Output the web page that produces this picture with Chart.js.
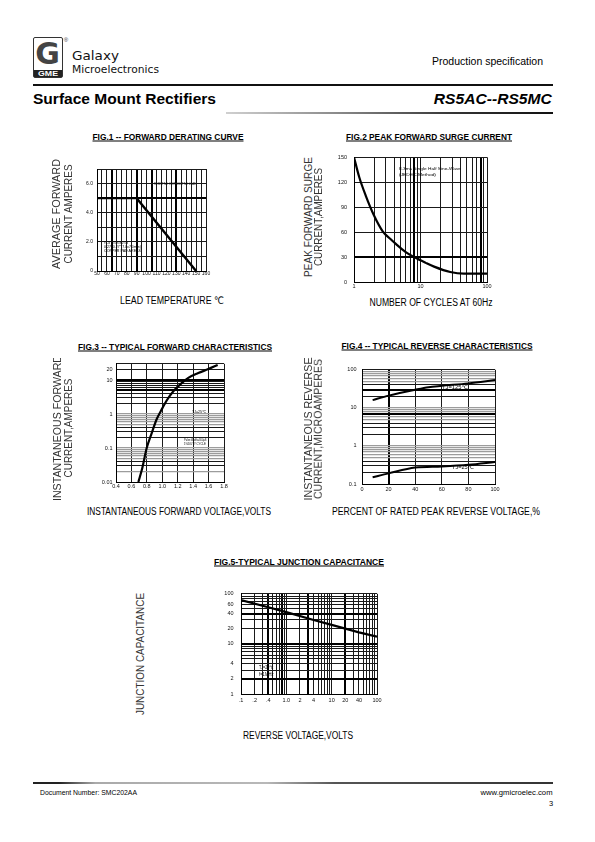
<!DOCTYPE html>
<html><head><meta charset="utf-8"><title>RS5AC--RS5MC</title>
<script src="https://cdn.jsdelivr.net/npm/chart.js@4.4.1/dist/chart.umd.min.js"></script>
<style>
html,body{margin:0;padding:0;background:#fff;}
#page{position:relative;width:595px;height:842px;overflow:hidden;background:#fff;}
#page canvas{position:absolute;}
.t{position:absolute;white-space:nowrap;line-height:1;}
.b{position:absolute;}
</style></head>
<body><div id="page"></div>
<script>
// ================= DATA =================
// Fig.1 forward derating curve
const fig1Temp = [50, 90, 150];
const fig1Amps = [5.0, 5.0, 0.0];
const fig1GridX = [50,55,60,65,70,75,80,85,90,95,100,105,110,115,120,125,130,135,140,145,150,155,160];
const fig1TickX = [50,60,70,80,90,100,110,120,130,140,150,160];
const fig1TickXText = ['50','60','70','80','90','100','110','120','130','140','150','160'];
const fig1GridY = [0,1,2,3,4,5,6,7];
const fig1TickY = [0,2,4,6];
const fig1TickYText = ['0','2.0','4.0','6.0'];

// Fig.2 peak forward surge current
const fig2Cycles = [1,1.2,1.5,2,2.7,3.5,4.3,6,8,12,16,28,45,100];
const fig2Amps = [150,126,104,80,61,52,45.5,36,30,23,18.5,12,10,10];
const fig2GridX = [1,2,3,4,5,6,7,8,9,10,20,30,40,50,60,70,80,90,100];
const fig2TickX = [1,10,100];
const fig2TickXText = ['1','10','100'];
const fig2GridY = [0,30,60,90,120,150];
const fig2TickY = [0,30,60,90,120,150];
const fig2TickYText = ['0','30','60','90','120','150'];

// Fig.3 typical forward characteristics
const fig3Volts = [0.69,0.741,0.798,0.862,0.927,0.983,1.057,1.143,1.251,1.337,1.467,1.597,1.718];
const fig3Amps = [0.01,0.026,0.1,0.27,0.70,1.24,2.5,4.7,8.1,11.6,16,21,27.8];
const fig3GridX = [0.4,0.6,0.8,1.0,1.2,1.4,1.6,1.8];
const fig3TickX = [0.4,0.6,0.8,1.0,1.2,1.4,1.6,1.8];
const fig3TickXText = ['0.4','0.6','0.8','1.0','1.2','1.4','1.6','1.8'];
const fig3GridY = [0.01,0.02,0.03,0.04,0.05,0.06,0.07,0.08,0.09,0.1,0.2,0.3,0.4,0.5,0.6,0.7,0.8,0.9,1,2,3,4,5,6,7,8,9,10,20,30];
const fig3TickY = [0.01,0.1,1,10,20];
const fig3TickYText = ['0.01','0.1','1','10','20'];

// Fig.4 typical reverse characteristics
const fig4Percent125 = [8,20,40,50,60,80,100];
const fig4Micro125 = [16,21,30,35,38,44,54];
const fig4Percent25 = [8,20,40,60,80,100];
const fig4Micro25 = [0.15,0.19,0.27,0.29,0.32,0.38];
const fig4GridX = [0,20,40,60,80,100];
const fig4TickX = [0,20,40,60,80,100];
const fig4TickXText = ['0','20','40','60','80','100'];
const fig4GridY = [0.1,0.2,0.3,0.4,0.5,0.6,0.7,0.8,0.9,1,2,3,4,5,6,7,8,9,10,20,30,40,50,60,70,80,90,100];
const fig4TickY = [0.1,1,10,100];
const fig4TickYText = ['0.1','1','10','100'];

// Fig.5 typical junction capacitance
const fig5Volts = [0.1,0.4,1,4,10,40,100];
const fig5Cap = [75,54,43,30,24,17,14];
const fig5GridX = [0.1,0.2,0.3,0.4,0.5,0.6,0.7,0.8,0.9,1,2,3,4,5,6,7,8,9,10,20,30,40,50,60,70,80,90,100];
const fig5TickX = [0.1,0.2,0.4,1,2,4,10,20,40,100];
const fig5TickXText = ['.1','.2','.4','1.0','2','4','10','20','40','100'];
const fig5GridY = [1,2,3,4,5,6,7,8,9,10,20,30,40,50,60,70,80,90,100];
const fig5TickY = [1,2,4,10,20,40,60,100];
const fig5TickYText = ['1','2','4','10','20','40','60','100'];

// ================= HELPERS =================
const page = document.getElementById('page');
const SANS = '"Liberation Sans", Arial, "DejaVu Sans", sans-serif';
Chart.defaults.font.family = SANS;
Chart.defaults.color = '#111';

function place(text, x, y, w, fs, o) {
  o = o || {};
  const base = Math.max(fs, 9);
  const ky = fs / base;
  const d = document.createElement('div');
  d.className = 't';
  d.textContent = text;
  d.style.fontFamily = o.fam || SANS;
  d.style.fontSize = base + 'px';
  d.style.fontWeight = o.bold ? 'bold' : 'normal';
  d.style.fontStyle = o.italic ? 'italic' : 'normal';
  d.style.color = o.color || '#000';
  if (o.underline) d.style.textDecoration = 'underline';
  if (o.ls) d.style.letterSpacing = o.ls + 'px';
  (o.parent || page).appendChild(d);
  const nat = d.getBoundingClientRect().width;
  const kx = w ? w / nat : ky;
  const a = o.anchor || 'c';
  d.style.top = y + 'px';
  if (o.rot) {
    d.style.left = x + 'px';
    d.style.transform = `translate(-50%,-50%) rotate(-90deg) scale(${kx},${ky})`;
  } else if (a === 'l') {
    d.style.left = x + 'px';
    d.style.transformOrigin = '0 50%';
    d.style.transform = `translate(0,-50%) scale(${kx},${ky})`;
  } else if (a === 'r') {
    d.style.left = (x - nat) + 'px';
    d.style.transformOrigin = '100% 50%';
    d.style.transform = `translate(0,-50%) scale(${kx},${ky})`;
  } else {
    d.style.left = x + 'px';
    d.style.transform = `translate(-50%,-50%) scale(${kx},${ky})`;
  }
  return d;
}
function box(l, t, w, h, css) {
  const d = document.createElement('div');
  d.className = 'b';
  d.style.cssText = `left:${l}px;top:${t}px;width:${w}px;height:${h}px;` + (css || '');
  page.appendChild(d);
  return d;
}
function has(arr, v) { return arr.some(a => Math.abs(a - v) <= 1e-9 * Math.max(1, Math.abs(a))); }
function sig(v) { return Math.round(v / Math.pow(10, Math.floor(Math.log10(v) + 1e-9))); }
function pts(xs, ys) { return xs.map((x, i) => ({ x, y: ys[i] })); }

const thin = { c: '#1a1a1a', w: 1 }, bold = { c: '#000', w: 2 }, gray = { c: '#9c9c9c', w: 1.3 };

function axis(type, min, max, grid, labels, texts, style, fontSize, pad) {
  return {
    type, min, max,
    afterBuildTicks: s => { s.ticks = grid.map(v => ({ value: v })); },
    ticks: {
      autoSkip: false, maxRotation: 0, minRotation: 0, padding: pad,
      font: { size: fontSize, family: SANS }, color: '#111',
      callback: v => { const k = labels.findIndex(l => Math.abs(l - v) <= 1e-9 * Math.max(1, Math.abs(l))); return k < 0 ? '' : texts[k]; }
    },
    grid: {
      drawTicks: false,
      color: c => style(c.tick ? c.tick.value : NaN).c,
      lineWidth: c => style(c.tick ? c.tick.value : NaN).w
    },
    border: { display: true, color: '#000', width: 1 }
  };
}

const PAD_L = 40, PAD_T = 5, PAD_R = 10, PAD_B = 14;
function makeChart(rect, xAxis, yAxis, datasets) {
  const W = rect.r - rect.l + PAD_L + PAD_R, H = rect.b - rect.t + PAD_T + PAD_B;
  const cv = document.createElement('canvas');
  cv.width = W; cv.height = H;
  cv.style.left = (rect.l - PAD_L) + 'px'; cv.style.top = (rect.t - PAD_T) + 'px';
  cv.style.width = W + 'px'; cv.style.height = H + 'px';
  page.appendChild(cv);
  xAxis.position = 'bottom'; yAxis.position = 'left';
  xAxis.afterFit = s => { s.height = PAD_B; };
  yAxis.afterFit = s => { s.width = PAD_L; };
  return new Chart(cv, {
    type: 'line',
    data: { datasets },
    options: {
      responsive: false, animation: false, devicePixelRatio: 1, events: [],
      layout: { padding: { left: 0, top: PAD_T, right: PAD_R, bottom: 0 } },
      plugins: { legend: { display: false }, tooltip: { enabled: false } },
      scales: { x: xAxis, y: yAxis }
    }
  });
}
function curve(data, smooth, w) {
  return { data, borderColor: '#000', borderWidth: w || 2, pointRadius: 0, fill: false,
    tension: 0, cubicInterpolationMode: smooth ? 'monotone' : 'default' };
}

// ================= HEADER =================
box(33, 37, 30, 41, 'border:1.5px solid #333;border-radius:2px;box-sizing:border-box;background:#fff;');
place('G', 47.5, 53.5, null, 30, { bold: true, color: '#444', fam: '"DejaVu Sans", sans-serif' });
box(34, 70, 28, 7, 'background:#222;');
place('GME', 48, 73.6, 20, 6.5, { bold: true, color: '#fff' });
place('®', 66, 40, null, 6, { color: '#333' });
place('Galaxy', 72, 54.5, 47, 13, { anchor: 'l', color: '#111', fam: '"DejaVu Sans", sans-serif' });
place('Microelectronics', 72, 68.5, 87, 11, { anchor: 'l', color: '#111', fam: '"DejaVu Sans", sans-serif' });
place('Production specification', 432, 61.5, 111, 10, { anchor: 'l' });
box(33, 84, 520, 2, 'background:#111;');
place('Surface Mount Rectifiers', 33, 99, 183, 14, { anchor: 'l', bold: true });
place('RS5AC--RS5MC', 552, 99, 118, 14, { anchor: 'r', bold: true, italic: true });
box(226, 112, 327, 2, 'background:linear-gradient(to right,#d0d0d0,#888 35%,#333 70%,#111);');

// ================= FIG.1 =================
const f1BoldX = [65, 90, 105, 130];
makeChart({ l: 97, t: 167, r: 206, b: 271 },
  axis('linear', 50, 160, fig1GridX, fig1TickX, fig1TickXText, v => has(f1BoldX, v) ? bold : thin, 5, 0),
  axis('linear', 0, 7, fig1GridY, fig1TickY, fig1TickYText, v => has([5], v) ? bold : thin, 5, 4),
  [curve(pts(fig1Temp, fig1Amps), false, 2.4)]);
place('FIG.1 -- FORWARD DERATING CURVE', 167.5, 137, 151, 9, { bold: true, underline: true });
place('AVERAGE FORWARD', 56, 214, 110, 10.5, { rot: true, color: '#333' });
place('CURRENT AMPERES', 67.5, 214, 99, 10.5, { rot: true, color: '#333' });
place('LEAD TEMPERATURE  ℃', 172, 301, 104, 10, {});
place('RESISTIVE OR INDUCTIVE LOAD', 154, 184, 42, 3.2, { anchor: 'l' });
place('P.C.B MOUNTED ON', 104, 243, 24, 3.2, { anchor: 'l' });
place('0.27x0.27"(7.0x7.0mm)', 104, 247, 37, 3.2, { anchor: 'l' });
place('COPPER PAD AREAS', 104, 251, 37, 3.2, { anchor: 'l' });

// ================= FIG.2 =================
makeChart({ l: 354, t: 152, r: 487, b: 282 },
  axis('logarithmic', 1, 100, fig2GridX, fig2TickX, fig2TickXText, v => has([8, 80], v) ? bold : thin, 5.5, 1.5),
  axis('linear', 0, 150, fig2GridY, fig2TickY, fig2TickYText, v => has([30], v) ? bold : thin, 5.5, 7),
  [curve(pts(fig2Cycles, fig2Amps), true, 2.2)]);
place('FIG.2 PEAK FORWARD SURGE CURRENT', 429, 137, 166, 9, { bold: true, underline: true });
place('PEAK FORWARD SURGE', 307.5, 216.5, 120, 10.5, { rot: true, color: '#333' });
place('CURRENT,AMPERES', 317.5, 216.5, 98, 10.5, { rot: true, color: '#333' });
place('NUMBER  OF  CYCLES AT 60Hz', 431, 302.5, 123, 10, {});
place('8.3ms Single Half Sine-Wave', 398.5, 169, 62, 4.2, { anchor: 'l' });
place('(JEDEC Method)', 398.5, 174.5, 37, 4.2, { anchor: 'l' });

// ================= FIG.3 =================
makeChart({ l: 116, t: 362, r: 224, b: 482 },
  axis('linear', 0.4, 1.8, fig3GridX, fig3TickX, fig3TickXText, v => thin, 5.5, 1.5),
  axis('logarithmic', 0.01, 30, fig3GridY, fig3TickY, fig3TickYText, v => {
    if (has([10, 5], v)) return bold;
    if (has([0.01, 30, 20], v)) return thin;
    if (has([0.02], v)) return gray;
    if (v < 5 && [1, 5, 6, 7, 8, 9].includes(sig(v))) return gray;
    return thin;
  }, 5.5, 3.5),
  [curve(pts(fig3Volts, fig3Amps), true, 2.2)]);
place('FIG.3 -- TYPICAL FORWARD CHARACTERISTICS', 175, 346.5, 194, 9, { bold: true, underline: true });
const clip3 = box(40, 358, 40, 160, 'overflow:hidden;');
place('INSTANTANEOUS FORWARD', 16.5, 70, 146, 10.5, { rot: true, color: '#333', parent: clip3 });
place('CURRENT,AMPERES', 67.5, 428, 99, 10.5, { rot: true, color: '#333' });
place('INSTANTANEOUS FORWARD VOLTAGE,VOLTS', 179, 512, 184, 10, {});
place('TJ=25℃', 192, 412.3, 14, 4.2, { anchor: 'l' });
place('Pulse Width=300μS', 183.5, 440, 22.5, 3.2, { anchor: 'l' });
place('1%DUTY CYCLE', 184, 444, 22, 3, { anchor: 'l' });

// ================= FIG.4 =================
makeChart({ l: 362, t: 366, r: 495, b: 484 },
  axis('linear', 0, 100, fig4GridX, fig4TickX, fig4TickXText, v => has([20], v) ? bold : thin, 5.5, 2),
  axis('logarithmic', 0.1, 100, fig4GridY, fig4TickY, fig4TickYText, v => {
    if (has([30, 7], v)) return bold;
    if (has([0.1, 100], v)) return thin;
    return [2, 3, 4].includes(sig(v)) ? thin : gray;
  }, 5.5, 5.5),
  [curve(pts(fig4Percent125, fig4Micro125), true, 2), curve(pts(fig4Percent25, fig4Micro25), true, 2)]);
place('FIG.4 -- TYPICAL REVERSE  CHARACTERISTICS', 436.5, 345.5, 191, 9, { bold: true, underline: true });
place('INSTANTANEOUS REVERSE', 307.5, 429, 143, 10.5, { rot: true, color: '#333' });
place('CURRENT,MICROAMPERES', 317.5, 429, 140, 10.5, { rot: true, color: '#333' });
place('PERCENT  OF  RATED PEAK REVERSE VOLTAGE,%', 436, 512, 208, 10, {});
place('TJ=125℃', 442, 388, 26, 5, { anchor: 'l' });
place('TJ=25℃', 452, 468, 22, 5, { anchor: 'l' });

// ================= FIG.5 =================
const f5BoldX = [0.4, 0.8, 3, 20];
makeChart({ l: 241, t: 588, r: 377, b: 694 },
  axis('logarithmic', 0.1, 100, fig5GridX, fig5TickX, fig5TickXText, v => has(f5BoldX, v) ? bold : thin, 5.5, 3.5),
  axis('logarithmic', 1, 100, fig5GridY, fig5TickY, fig5TickYText, v => has([40, 10, 2], v) ? bold : thin, 5.5, 7.5),
  [curve(pts(fig5Volts, fig5Cap), false, 2.2)]);
place('FIG.5-TYPICAL JUNCTION CAPACITANCE', 299, 561.7, 170, 9, { bold: true, underline: true });
place('JUNCTION CAPACITANCE', 140, 654, 122, 10.5, { rot: true, color: '#333' });
place('REVERSE VOLTAGE,VOLTS', 297.5, 735.7, 110, 10, {});
place('TJ=25℃', 259, 667.5, 14.5, 4.5, { anchor: 'l' });
place('f=1MHz', 259, 675, 14.5, 4.5, { anchor: 'l' });

// ================= FOOTER =================
box(33, 782, 520, 2, 'background:linear-gradient(to right,#222 0%,#222 5%,#aaa 12%,#b8b8b8 45%,#555 58%,#333 100%);');
place('Document Number: SMC202AA', 40, 792.5, 97, 7.5, { anchor: 'l' });
place('www.gmicroelec.com', 553, 792.5, 72, 7.5, { anchor: 'r' });
place('3', 551, 803.5, null, 7.5, {});
</script></body></html>
